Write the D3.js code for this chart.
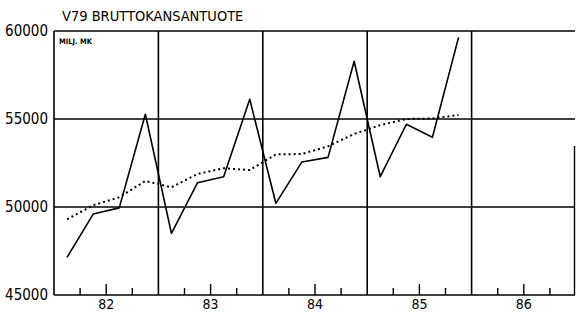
<!DOCTYPE html>
<html lang="fi">
<head>
<meta charset="UTF-8">
<title>V79 Bruttokansantuote</title>
<script src="https://cdn.jsdelivr.net/npm/d3@7"></script>
<style>
    body { margin: 0; background: #fff; }
    text { font-family: "DejaVu Sans Condensed", "DejaVu Sans", sans-serif; fill: #000; }
</style>
</head>
<body>
<svg width="576" height="313"></svg>
<script>
    // quarterly values 1982Q1 .. 1985Q4, milj. mk
    const actual = [47140, 49600, 49950, 55270, 48500, 51380, 51720, 56120,
                    50210, 52560, 52820, 58280, 51720, 54700, 53960, 59640];
    const trend  = [49300, 50100, 50550, 51480, 51120, 51880, 52200, 52100,
                    52990, 53010, 53450, 54150, 54650, 55000, 55030, 55230];
    const yTicks = [45000, 50000, 55000, 60000];
    const yearLabels = ["82", "83", "84", "85", "86"];

    const svg = d3.select("svg");
    const plotLeft = 54, plotRight = 576, plotTop = 31, plotBottom = 295;

    // x measured in quarters from start of 1982
    const x = d3.scaleLinear().domain([0, 20]).range([plotLeft, plotRight]);
    const y = d3.scaleLinear().domain([45000, 60000]).range([plotBottom, plotTop]);

    const g = svg.append("g").attr("stroke", "#000").attr("fill", "none");

    // horizontal grid
    g.selectAll(".hgrid").data(yTicks).enter().append("line")
        .attr("x1", plotLeft).attr("x2", plotRight - 1)
        .attr("y1", d => y(d)).attr("y2", d => y(d))
        .attr("stroke-width", 1.6);

    // year boundaries
    g.selectAll(".vgrid").data([4, 8, 12, 16]).enter().append("line")
        .attr("x1", d => x(d)).attr("x2", d => x(d))
        .attr("y1", plotTop).attr("y2", plotBottom)
        .attr("stroke-width", 1.6);

    // left axis and right border
    g.append("line").attr("x1", plotLeft).attr("x2", plotLeft).attr("y1", plotTop).attr("y2", plotBottom).attr("stroke-width", 1.6);
    g.append("line").attr("x1", plotRight - 1.5).attr("x2", plotRight - 1.5).attr("y1", 146).attr("y2", plotBottom).attr("stroke-width", 1.4);

    // quarter ticks on the bottom
    g.selectAll(".tick").data(d3.range(1, 20).filter(d => d % 4 !== 0)).enter().append("line")
        .attr("x1", d => x(d)).attr("x2", d => x(d))
        .attr("y1", plotBottom).attr("y2", d => plotBottom - (d % 4 === 2 ? 11 : 7))
        .attr("stroke-width", 1.4);

    // y labels
    svg.selectAll(".ylab").data(yTicks).enter().append("text")
        .attr("x", 48).attr("y", d => y(d) + 5)
        .attr("text-anchor", "end").attr("font-size", 15)
        .text(d => d);

    // x labels (middle of each year)
    svg.selectAll(".xlab").data(yearLabels).enter().append("text")
        .attr("x", (d, i) => x(i * 4 + 2)).attr("y", 309)
        .attr("text-anchor", "middle").attr("font-size", 14)
        .text(d => d);

    svg.append("text").attr("x", 62).attr("y", 21).attr("font-size", 14.5).text("V79 BRUTTOKANSANTUOTE");
    svg.append("text").attr("x", 59).attr("y", 44).attr("font-size", 7.5).attr("font-weight", "bold").text("MILJ. MK");

    const line = d3.line().x((d, i) => x(i + 0.5)).y(d => y(d));

    g.append("path").datum(trend).attr("d", line)
        .attr("stroke-width", 2).attr("stroke-dasharray", "2,3");
    g.append("path").datum(actual).attr("d", line)
        .attr("stroke-width", 1.6).attr("stroke-linejoin", "round");
</script>
</body>
</html>
